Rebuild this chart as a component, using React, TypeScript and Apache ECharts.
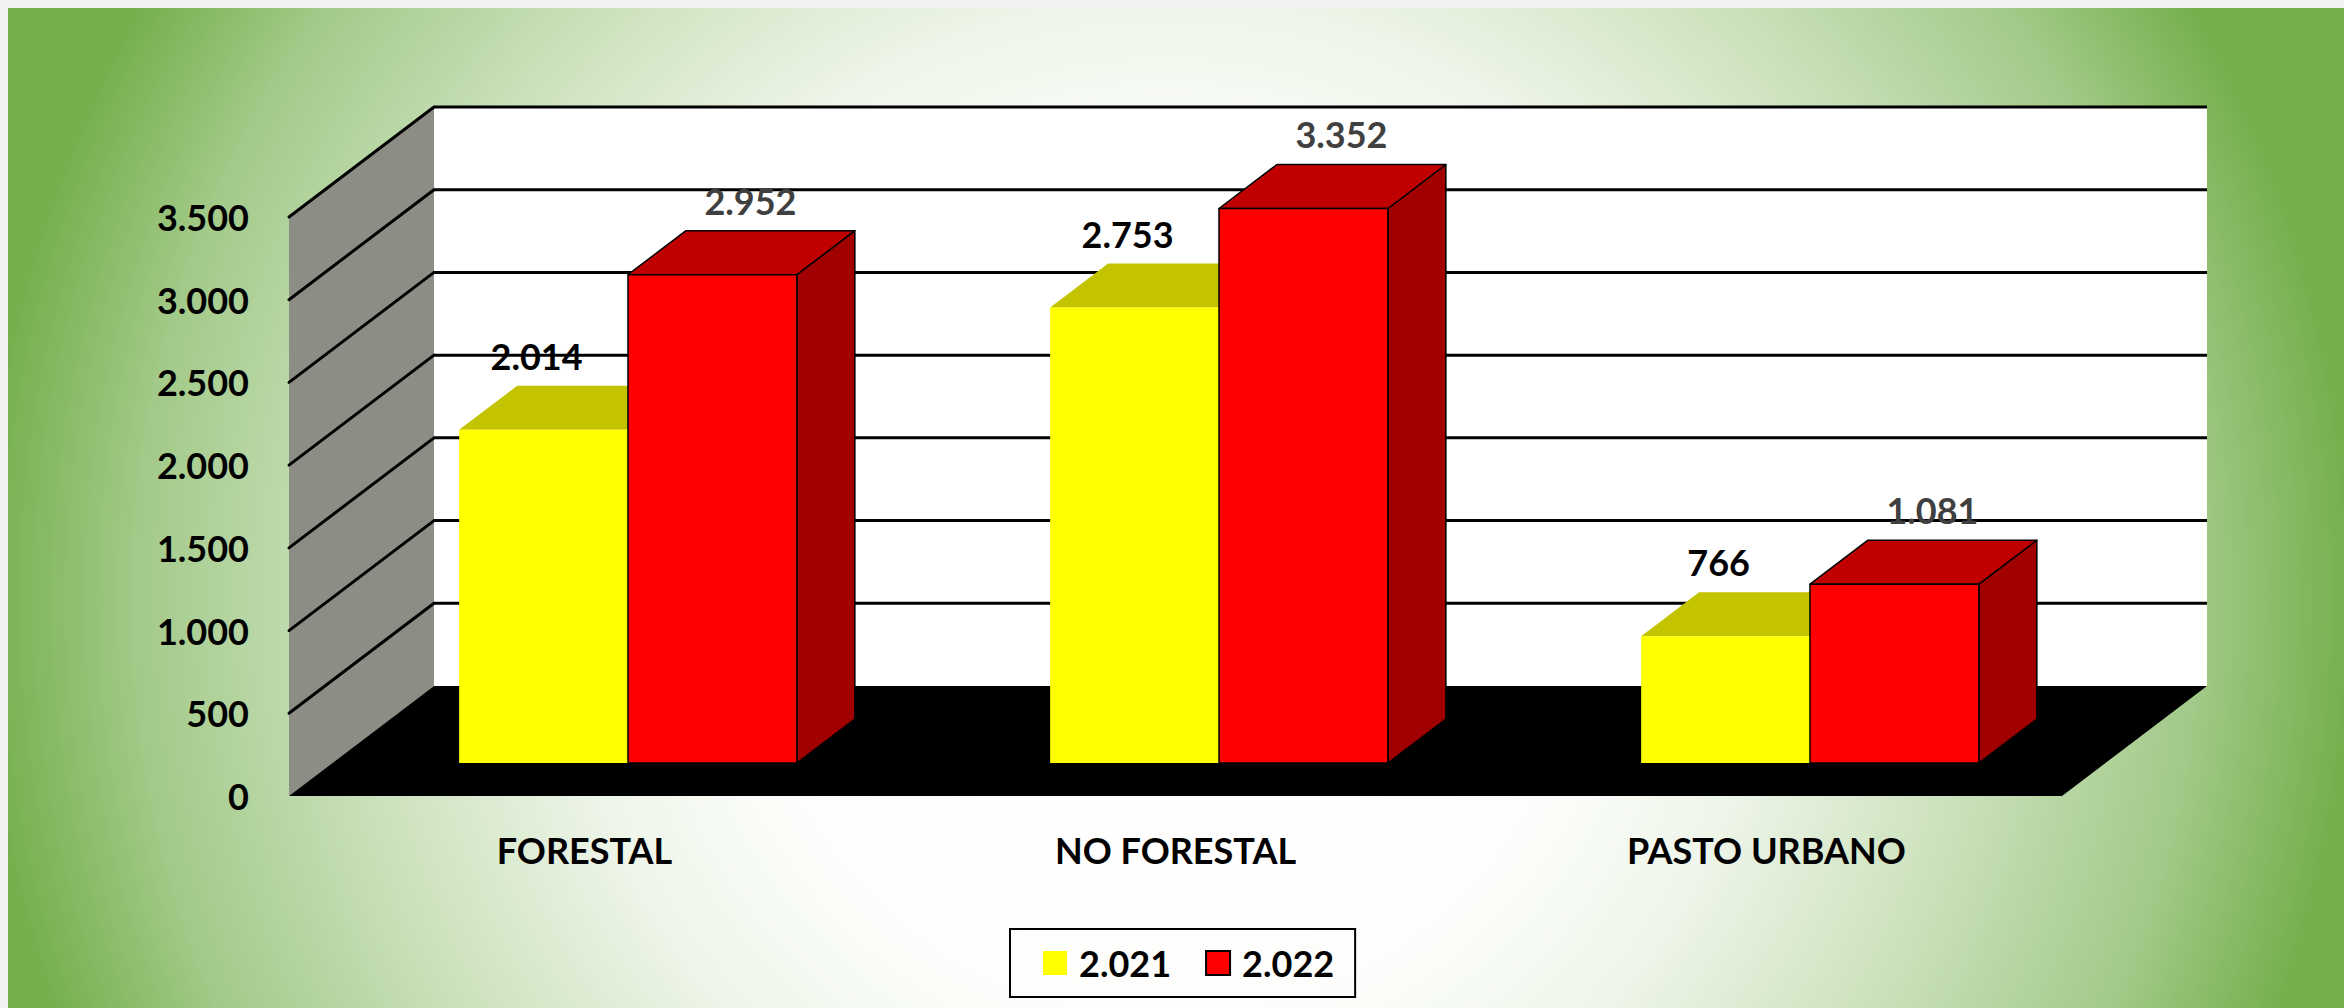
import React, { useEffect, useRef } from 'react';
import * as echarts from 'echarts';

const CATEGORIES = ['FORESTAL', 'NO FORESTAL', 'PASTO URBANO'];
const SERIES_NAMES = ['2.021', '2.022'];
const VALUES_2021 = [2014, 2753, 766];
const VALUES_2022 = [2952, 3352, 1081];
const Y_TICKS = [0, 500, 1000, 1500, 2000, 2500, 3000, 3500];

const FONT = 'Lato, "Open Sans", sans-serif';
const FONT_SIZE = 36;
const DEPTH = [145, -110];
const FRONT = 0.3;
const BAR_DEPTH = 0.4;

const fmt = (v: number) => String(v).replace(/\B(?=(\d{3})+(?!\d))/g, '.');

type BarCfg = {
  side: 'left' | 'right';
  front: string;
  top: string;
  sideColor: string;
  stroke: boolean;
  labelColor: string;
  labelDx: number;
};

const makeBarRenderer = (cfg: BarCfg) => (params: any, api: any) => {
  const cat = api.value(0);
  const val = api.value(1);
  const topPt = api.coord([cat, val]);
  const basePt = api.coord([cat, 0]);
  const band = api.size([1, 0])[0];
  const bw = band / 3.5;
  const fx = DEPTH[0] * FRONT;
  const fy = DEPTH[1] * FRONT;
  const bx = DEPTH[0] * BAR_DEPTH;
  const by = DEPTH[1] * BAR_DEPTH;
  const xL = (cfg.side === 'left' ? topPt[0] - bw : topPt[0]) + fx;
  const xR = xL + bw;
  const yT = topPt[1] + fy;
  const yB = basePt[1] + fy;
  const st: any = cfg.stroke ? { stroke: '#000000', lineWidth: 1.5, lineJoin: 'round' } : { lineWidth: 0 };
  return {
    type: 'group',
    children: [
      {
        type: 'polygon',
        shape: { points: [[xR, yT], [xR + bx, yT + by], [xR + bx, yB + by], [xR, yB]] },
        style: { fill: cfg.sideColor, ...st },
      },
      {
        type: 'polygon',
        shape: { points: [[xL, yT], [xR, yT], [xR + bx, yT + by], [xL + bx, yT + by]] },
        style: { fill: cfg.top, ...st },
      },
      {
        type: 'rect',
        shape: { x: xL, y: yT, width: bw, height: yB - yT },
        style: { fill: cfg.front, ...st },
      },
      {
        type: 'text',
        x: (xL + xR) / 2 + cfg.labelDx,
        y: yT + by - 30,
        style: {
          text: fmt(val),
          fill: cfg.labelColor,
          fontSize: FONT_SIZE,
          fontWeight: 'bold',
          fontFamily: FONT,
          align: 'center',
          verticalAlign: 'middle',
          textAlign: 'center',
          textVerticalAlign: 'middle',
        },
      },
    ],
  };
};

const sceneRender = (params: any, api: any) => {
  const cs = params.coordSys;
  const x0 = cs.x;
  const x1 = cs.x + cs.width;
  const [dx, dy] = DEPTH;
  const y = (v: number) => api.coord([0, v])[1];
  const yMin = y(Y_TICKS[0]);
  const yMax = y(Y_TICKS[Y_TICKS.length - 1]);
  const children: any[] = [
    {
      type: 'polygon',
      shape: { points: [[x0, yMin], [x0, yMax], [x0 + dx, yMax + dy], [x0 + dx, yMin + dy]] },
      style: { fill: '#8c8e86' },
    },
    {
      type: 'polygon',
      shape: { points: [[x0 + dx, yMax + dy], [x1 + dx, yMax + dy], [x1 + dx, yMin + dy], [x0 + dx, yMin + dy]] },
      style: { fill: '#ffffff' },
    },
    {
      type: 'polygon',
      shape: { points: [[x0, yMin], [x1, yMin], [x1 + dx, yMin + dy], [x0 + dx, yMin + dy]] },
      style: { fill: '#000000' },
    },
  ];
  Y_TICKS.slice(1).forEach((v) => {
    const yy = y(v);
    children.push({
      type: 'line',
      shape: { x1: x0, y1: yy, x2: x0 + dx, y2: yy + dy },
      style: { stroke: '#000000', lineWidth: 3, lineCap: 'round' },
    });
    children.push({
      type: 'line',
      shape: { x1: x0 + dx, y1: yy + dy, x2: x1 + dx, y2: yy + dy },
      style: { stroke: '#000000', lineWidth: 3 },
    });
  });
  return { type: 'group', children };
};

export default function App() {
  const ref = useRef<HTMLDivElement>(null);

  useEffect(() => {
    if (!ref.current) return;
    const chart = echarts.init(ref.current, null, { renderer: 'svg' });
    const labelStyle = {
      color: '#000000',
      fontSize: FONT_SIZE,
      fontWeight: 'bold' as const,
      fontFamily: FONT,
    };
    chart.setOption({
      animation: false,
      backgroundColor: 'transparent',
      graphic: [
        {
          type: 'rect',
          z: -100,
          silent: true,
          shape: { x: 8, y: 8, width: 2336, height: 1000 },
          style: {
            fill: new echarts.graphic.RadialGradient(
              1166,
              600,
              1196,
              [
                { offset: 0, color: '#ffffff' },
                { offset: 0.35, color: '#fdfefc' },
                { offset: 0.5, color: '#eef5e9' },
                { offset: 0.68, color: '#cbe1bc' },
                { offset: 0.86, color: '#a3ca89' },
                { offset: 1, color: '#72ae49' },
              ],
              true
            ),
          },
        },
      ],
      grid: { left: 289, top: 217, width: 1773, height: 579 },
      xAxis: {
        type: 'category',
        data: CATEGORIES,
        axisLine: { show: false },
        axisTick: { show: false },
        splitLine: { show: false },
        axisLabel: { ...labelStyle, margin: 36 },
      },
      yAxis: {
        type: 'value',
        min: 0,
        max: 3500,
        interval: 500,
        axisLine: { show: false },
        axisTick: { show: false },
        splitLine: { show: false },
        axisLabel: { ...labelStyle, margin: 40, formatter: (v: number) => fmt(v) },
      },
      legend: {
        data: [
          { name: SERIES_NAMES[0], itemStyle: { color: '#ffff00', borderWidth: 0 } },
          { name: SERIES_NAMES[1], itemStyle: { color: '#ff0000', borderColor: '#000000', borderWidth: 2 } },
        ],
        left: 1010,
        top: 929,
        orient: 'horizontal',
        icon: 'rect',
        itemWidth: 24,
        itemHeight: 24,
        itemGap: 34,
        padding: [14, 21, 14, 33],
        borderColor: '#000000',
        borderWidth: 2,
        textStyle: { ...labelStyle, lineHeight: 40, padding: [0, 0, 0, 7] },
        selectedMode: false,
      },
      series: [
        {
          type: 'custom',
          name: 'scene',
          z: 1,
          silent: true,
          renderItem: sceneRender,
          data: [[0, 0]],
        },
        {
          type: 'custom',
          name: SERIES_NAMES[0],
          z: 2,
          itemStyle: { color: '#ffff00' },
          renderItem: makeBarRenderer({
            side: 'left',
            front: '#ffff00',
            top: '#c3c300',
            sideColor: '#a0a000',
            stroke: false,
            labelColor: '#000000',
            labelDx: -7,
          }),
          data: VALUES_2021.map((v, i) => [i, v]),
        },
        {
          type: 'custom',
          name: SERIES_NAMES[1],
          z: 3,
          itemStyle: { color: '#ff0000', borderColor: '#000000', borderWidth: 2 },
          renderItem: makeBarRenderer({
            side: 'right',
            front: '#ff0000',
            top: '#c00000',
            sideColor: '#a00000',
            stroke: true,
            labelColor: '#404040',
            labelDx: 38,
          }),
          data: VALUES_2022.map((v, i) => [i, v]),
        },
      ],
    });
    return () => chart.dispose();
  }, []);

  return (
    <div
      style={{
        position: 'fixed',
        left: 0,
        top: 0,
        width: 2344,
        height: 1008,
        background: '#f2f2f2',
      }}
    >
      <div ref={ref} style={{ width: 2344, height: 1008 }} />
    </div>
  );
}
